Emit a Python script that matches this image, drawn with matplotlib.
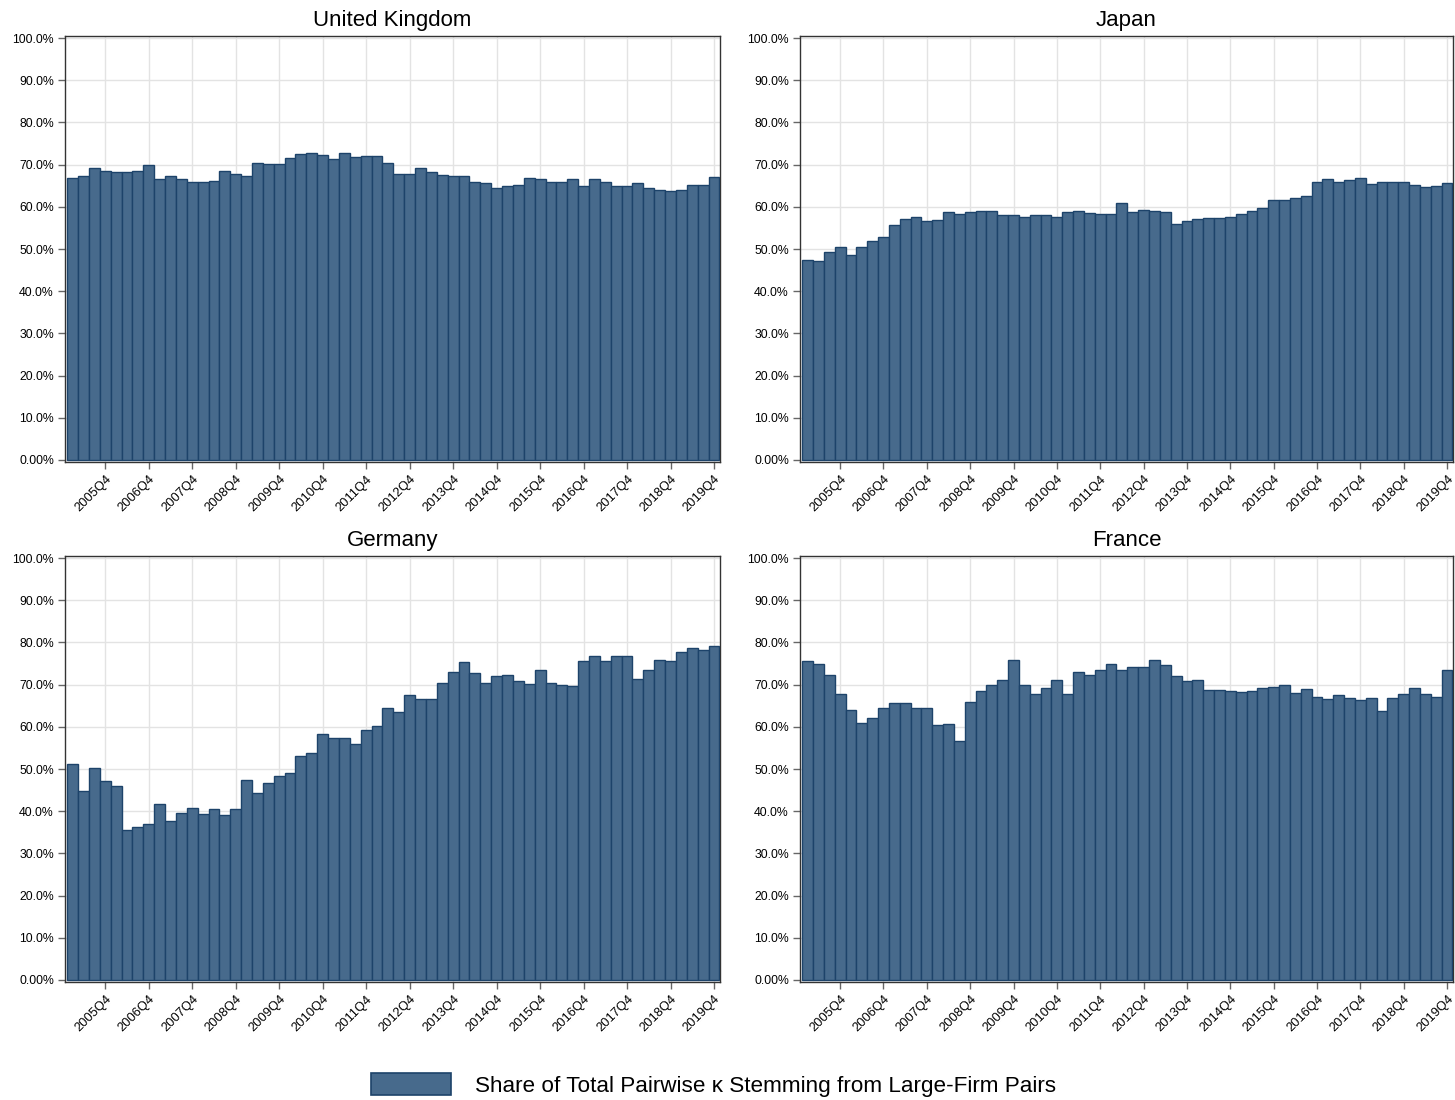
import matplotlib
matplotlib.use("Agg")
import matplotlib.pyplot as plt
import numpy as np
from matplotlib.patches import Patch
from matplotlib.ticker import FuncFormatter

plt.rcParams['font.family'] = ['Liberation Sans', 'DejaVu Sans']

quarters = [f"{y}Q{q}" for y in range(2005, 2020) for q in range(1, 5)]
tick_labels = [f"{y}Q4" for y in range(2005, 2020)]

uk = [66.8, 67.4, 69.1, 68.6, 68.2, 68.2, 68.6, 69.9, 66.5, 67.2,
      66.7, 66.0, 66.0, 66.2, 68.4, 67.9, 67.2, 70.3, 70.1, 70.2,
      71.6, 72.5, 72.7, 72.4, 71.3, 72.7, 71.8, 72.1, 72.0, 70.5,
      67.8, 67.8, 69.1, 68.2, 67.5, 67.4, 67.2, 66.0, 65.7, 64.5,
      64.9, 65.1, 66.8, 66.5, 66.0, 66.0, 66.6, 64.9, 66.6, 65.8,
      64.9, 64.9, 65.6, 64.5, 64.0, 63.7, 63.9, 65.1, 65.2, 67.0]

japan = [47.5, 47.1, 49.3, 50.4, 48.5, 50.4, 51.9, 52.8, 55.6, 57.0,
         57.7, 56.7, 56.9, 58.7, 58.2, 58.7, 59.1, 58.9, 58.1, 58.0,
         57.5, 58.0, 58.0, 57.7, 58.7, 59.1, 58.5, 58.2, 58.2, 61.0,
         58.7, 59.3, 58.9, 58.7, 56.0, 56.6, 57.0, 57.3, 57.3, 57.7,
         58.4, 58.9, 59.8, 61.6, 61.6, 62.0, 62.6, 66.0, 66.5, 65.8,
         66.3, 66.8, 65.3, 66.0, 66.0, 66.0, 65.1, 64.6, 64.9, 65.6]

germany = [51.3, 44.9, 50.2, 47.1, 45.9, 35.5, 36.2, 36.9, 41.7, 37.7,
           39.5, 40.8, 39.3, 40.6, 39.0, 40.6, 47.3, 44.2, 46.6, 48.3,
           49.0, 53.2, 53.7, 58.2, 57.3, 57.3, 55.9, 59.2, 60.2, 64.4,
           63.5, 67.6, 66.5, 66.7, 70.3, 73.1, 75.4, 72.7, 70.5, 72.0,
           72.2, 70.8, 70.1, 73.5, 70.4, 69.8, 69.7, 75.6, 76.9, 75.5,
           76.7, 76.9, 71.3, 73.4, 75.8, 75.5, 77.8, 78.6, 78.1, 79.1]

france = [75.5, 74.8, 72.3, 67.9, 63.9, 60.9, 62.0, 64.4, 65.6, 65.6,
          64.4, 64.4, 60.4, 60.6, 56.6, 65.9, 68.6, 70.0, 71.1, 75.8,
          69.9, 67.9, 69.3, 71.0, 67.7, 73.1, 72.2, 73.5, 74.8, 73.4,
          74.1, 74.3, 75.9, 74.6, 72.0, 70.8, 71.2, 68.8, 68.8, 68.6,
          68.2, 68.6, 69.1, 69.4, 69.9, 68.0, 69.0, 67.1, 66.6, 67.5,
          66.8, 66.3, 66.8, 63.8, 66.8, 67.7, 69.3, 67.9, 67.1, 73.4]

titles = ["United Kingdom", "Japan", "Germany", "France"]
series = [uk, japan, germany, france]

fill = "#476a8c"
edge = "#1d436a"
legend_label = "Share of Total Pairwise \u03ba Stemming from Large-Firm Pairs"

fig = plt.figure(figsize=(14.55, 11.0), dpi=100)
W, H = 1455, 1100
boxes = [(65, 36, 720, 462), (800, 36, 1453, 462),
         (65, 556, 720, 982), (800, 556, 1453, 982)]

def yfmt(v, pos):
    if abs(v) < 1e-9:
        return "0.00%"
    return f"{v*100:.1f}%"

x = np.arange(len(quarters))
tick_pos = [quarters.index(t) for t in tick_labels]

for (l, t, r, b), title, vals in zip(boxes, titles, series):
    ax = fig.add_axes([l / W, 1 - b / H, (r - l) / W, (b - t) / H])
    ax.bar(x, np.array(vals) / 100.0, width=1.0, color=fill, edgecolor=edge,
           linewidth=1.0, zorder=3)
    ax.set_xlim(-0.7, 59.55)
    ax.set_ylim(-0.005, 1.005)
    ax.set_yticks(np.arange(0, 1.01, 0.1))
    ax.yaxis.set_major_formatter(FuncFormatter(yfmt))
    ax.set_xticks(tick_pos)
    ax.set_xticklabels(tick_labels, rotation=45, ha='right',
                       rotation_mode='anchor', fontsize=9.3)
    ax.tick_params(axis='y', labelsize=8.8, length=5, pad=3,
                   color='#666666', width=1)
    ax.tick_params(axis='x', length=5, pad=3, color='#666666', width=1)
    ax.grid(True, color='#e3e3e3', linewidth=1.0, zorder=0)
    ax.set_axisbelow(True)
    for s in ax.spines.values():
        s.set_color('#333333')
        s.set_linewidth(1.0)
    ax.set_title(title, fontsize=16, pad=7)

handle = Patch(facecolor=fill, edgecolor=edge, linewidth=1.2)
fig.legend([handle], [legend_label], loc='center',
           bbox_to_anchor=(713.5 / W, 1 - 1085 / H), frameon=False,
           fontsize=16.2, handlelength=3.55, handleheight=1.07,
           handletextpad=1.07)

fig.savefig("out.png", dpi=100)
